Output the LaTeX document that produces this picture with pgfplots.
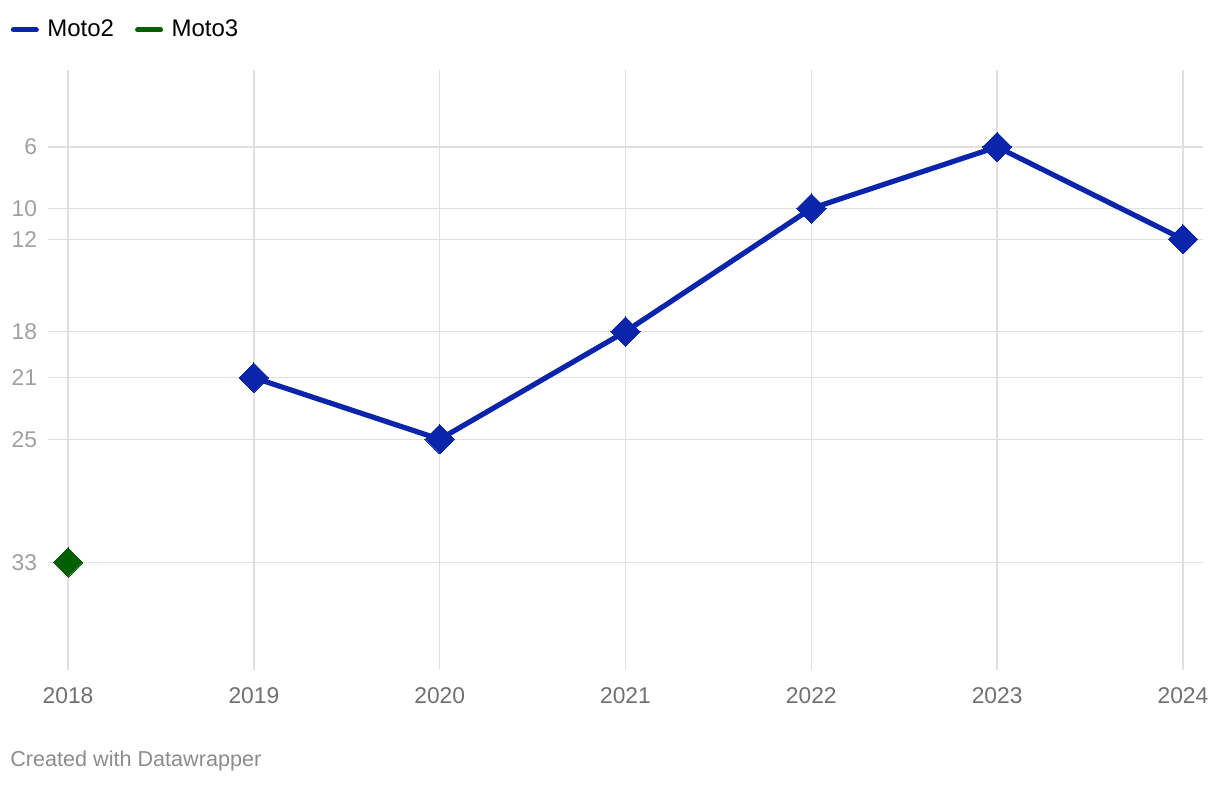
\documentclass[border=0pt]{standalone}
\usepackage{pgfplots}
\pgfplotsset{compat=1.18}
\usepackage{fontspec}
\setmainfont{Liberation Sans}
\definecolor{motoblue}{HTML}{0A24AA}
\definecolor{motogreen}{HTML}{005F00}
\definecolor{gridc}{HTML}{E0E0E0}
\definecolor{ylab}{HTML}{A0A0A0}
\definecolor{xlab}{HTML}{707070}
\definecolor{capc}{HTML}{8C8C8C}
\begin{document}
\begin{tikzpicture}
\begin{axis}[
  scale only axis,
  width=577.5pt, height=300pt,
  xmin=2017.892, xmax=2024.108,
  ymin=1, ymax=40, y dir=reverse,
  xtick={2018,2019,2020,2021,2022,2023,2024},
  ytick={6,10,12,18,21,25,33},
  /pgf/number format/assume math mode=true,
  xticklabel={\pgfmathprintnumber[1000 sep={}]{\tick}},
  xmajorgrids, ymajorgrids,
  grid style={gridc, line width=0.7pt},
  axis line style={draw=none},
  major tick length=0pt,
  tick style={draw=none},
  every tick label/.append style={font=\fontsize{11.4}{13}\selectfont},
  xticklabel style={text=xlab, yshift=-5.5pt},
  yticklabel style={text=ylab, xshift=-2pt},
  clip=false,
  legend columns=2,
  legend style={draw=none, fill=none, at={(-0.0325,1.0667)}, anchor=west,
    font=\fontsize{12}{14}\selectfont, inner sep=0pt,
    nodes={inner sep=0pt},
    /tikz/every odd column/.append style={column sep=4.25pt},
    /tikz/every even column/.append style={column sep=10.5pt}},
  legend image code/.code={\draw[#1, line cap=round, line width=2.5pt, mark=none] (0pt,0pt) -- (11.5pt,0pt);},
]
\addplot[motoblue, line width=2.6pt, mark=square*, mark size=5.2pt,
  mark options={rotate=45, solid, line width=0pt}]
  coordinates {(2019,21) (2020,25) (2021,18) (2022,10) (2023,6) (2024,12)};
\addlegendentry{Moto2}
\addplot[motogreen, line width=2.6pt, mark=square*, mark size=5.2pt,
  mark options={rotate=45, solid, line width=0pt}]
  coordinates {(2018,33)};
\addlegendentry{Moto3}
\end{axis}
\node[anchor=base west, inner sep=0pt, text=capc, font=\fontsize{10.8}{13}\selectfont] at (-19pt,-48.5pt) {Created with Datawrapper};
\useasboundingbox (-24pt,-58pt) rectangle (586pt,335pt);
\end{tikzpicture}
\end{document}
